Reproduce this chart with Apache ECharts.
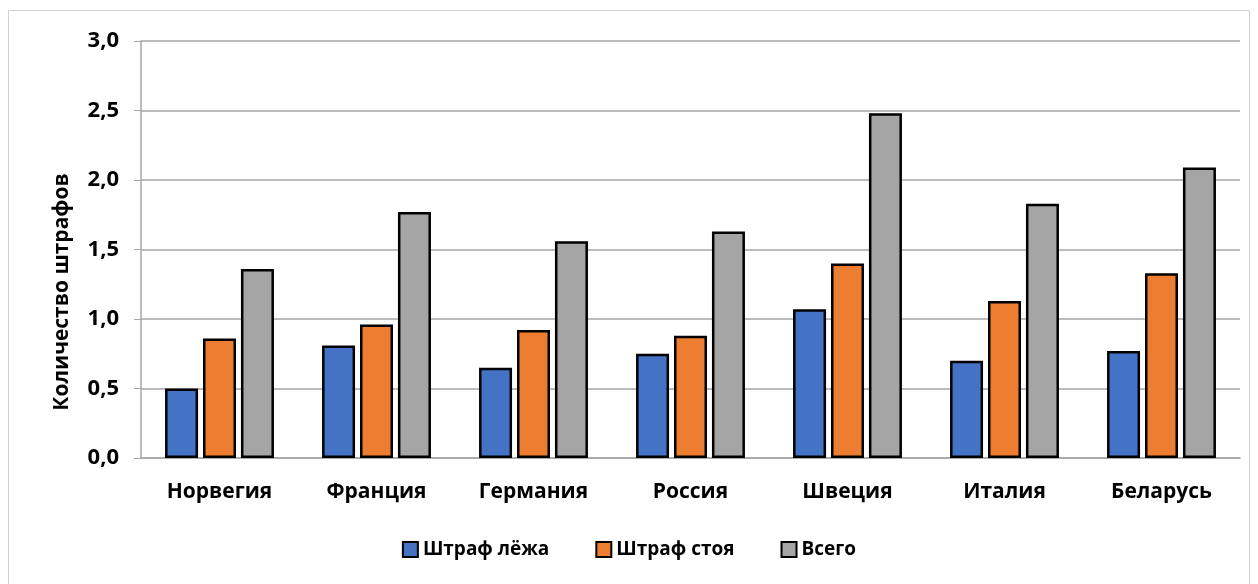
<!DOCTYPE html>
<html lang="ru">
<head>
  <meta charset="UTF-8">
  <title>Количество штрафов</title>
  <style>
    html, body { margin: 0; padding: 0; background: #fff; }
    #main { width: 1258px; height: 584px; }
  </style>
</head>
<body>
<div id="main"></div>
<script src="https://cdn.jsdelivr.net/npm/echarts@6/dist/echarts.min.js"></script>
<script>
  const countries = ['Норвегия', 'Франция', 'Германия', 'Россия', 'Швеция', 'Италия', 'Беларусь'];
  const lying = [0.50, 0.81, 0.65, 0.75, 1.07, 0.70, 0.77];
  const standing = [0.86, 0.96, 0.92, 0.88, 1.40, 1.13, 1.33];
  const total = [1.36, 1.77, 1.56, 1.63, 2.48, 1.83, 2.09];

  const font = '"Open Sans", "Liberation Sans", sans-serif';
  const chart = echarts.init(document.getElementById('main'));

  function bar(name, data, color) {
    return {
      name: name,
      type: 'bar',
      data: data,
      barWidth: 33,
      barGap: '15%',
      itemStyle: { color: color, borderColor: '#000', borderWidth: 2.5 }
    };
  }

  chart.setOption({
    animation: false,
    textStyle: { fontFamily: font },
    graphic: [{
      type: 'rect',
      shape: { x: 8.5, y: 10.5, width: 1241, height: 580 },
      style: { fill: 'none', stroke: '#d0d0d0', lineWidth: 1 },
      z: -1
    }, {
      // подпись оси Y смещена вниз, как в исходнике
      type: 'text',
      x: 62,
      y: 292,
      rotation: Math.PI / 2,
      style: {
        text: 'Количество штрафов',
        fill: '#000',
        font: 'bold 21px ' + font,
        align: 'center',
        verticalAlign: 'middle'
      }
    }],
    grid: { left: 141, right: 18, top: 41, bottom: 126 },
    legend: {
      bottom: 20,
      left: 'center',
      itemWidth: 15,
      itemHeight: 15,
      itemGap: 46,
      icon: 'rect',
      textStyle: { fontFamily: font, fontWeight: 'bold', fontSize: 19, color: '#000' },
      data: ['Штраф лёжа', 'Штраф стоя', 'Всего']
    },
    xAxis: {
      type: 'category',
      data: countries,
      axisLine: { lineStyle: { color: '#a6a6a6', width: 1.5 } },
      axisTick: { length: 7, lineStyle: { color: '#a6a6a6' } },
      axisLabel: { color: '#000', fontWeight: 'bold', fontSize: 21, margin: 24, fontFamily: font }
    },
    yAxis: {
      type: 'value',
      min: 0,
      max: 3,
      interval: 0.5,
      axisLine: { show: true, lineStyle: { color: '#a6a6a6', width: 1.5 } },
      axisTick: { show: true, length: 7, lineStyle: { color: '#a6a6a6' } },
      splitLine: { lineStyle: { color: '#a6a6a6', width: 1.5 } },
      axisLabel: {
        color: '#000', fontWeight: 'bold', fontSize: 22, margin: 22, fontFamily: font,
        formatter: v => v.toFixed(1).replace('.', ',')
      }
    },
    series: [
      bar('Штраф лёжа', lying, '#4472c4'),
      bar('Штраф стоя', standing, '#ed7d31'),
      bar('Всего', total, '#a5a5a5')
    ]
  });
</script>
</body>
</html>
